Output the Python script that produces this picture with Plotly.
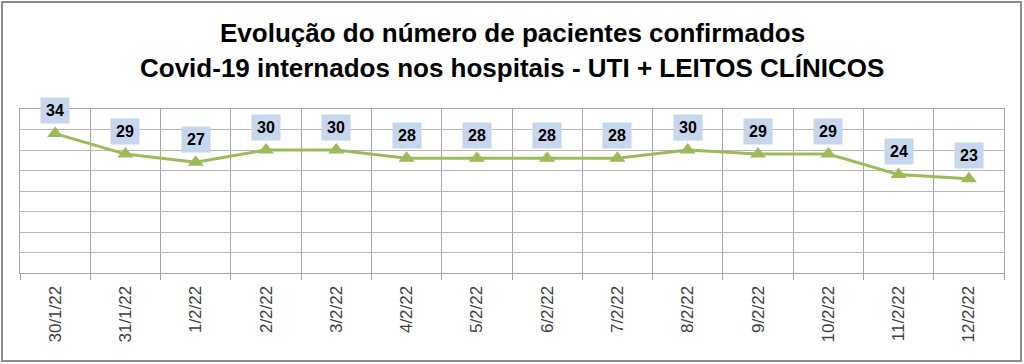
import plotly.graph_objects as go

dates = ["30/1/22", "31/1/22", "1/2/22", "2/2/22", "3/2/22", "4/2/22", "5/2/22",
         "6/2/22", "7/2/22", "8/2/22", "9/2/22", "10/2/22", "11/2/22", "12/2/22"]
pacientes = [34, 29, 27, 30, 30, 28, 28, 28, 28, 30, 29, 29, 24, 23]

title_lines = ["Evolução do número de pacientes confirmados",
               "Covid-19 internados nos hospitais - UTI + LEITOS CLÍNICOS"]

W, H = 1024, 364
ML, MR, MT, MB = 20, 20, 109, 91
FONT = "Liberation Sans, Arial"

fig = go.Figure()
fig.add_trace(go.Scatter(
    x=dates, y=pacientes, mode="lines+markers",
    line=dict(color="#9bbb59", width=3),
    marker=dict(symbol="triangle-up", size=14, color="#9bbb59"),
    hoverinfo="x+y", showlegend=False,
))

for d, v in zip(dates, pacientes):
    fig.add_annotation(
        x=d, y=v, text="<b>%d</b>" % v, showarrow=False, yshift=23,
        bgcolor="#c6d6ec", borderpad=4, width=20, height=17,
        font=dict(family=FONT, size=16, color="#000000"),
    )

pw, ph = W - ML - MR, H - MT - MB
def px2paper_x(px):
    return (px - ML) / pw
def px2paper_y(py):
    return (H - MB - py) / ph

# title lines
for t, cy in zip(title_lines, [33, 68]):
    fig.add_annotation(
        xref="paper", yref="paper", x=px2paper_x(512), y=px2paper_y(cy),
        xanchor="center", yanchor="middle", showarrow=False,
        text="<b>" + t + "</b>",
        font=dict(family=FONT, size=26, color="#000000"),
    )

# outer chart border
fig.add_shape(type="rect", xref="paper", yref="paper",
              x0=px2paper_x(2), x1=px2paper_x(1021), y0=px2paper_y(361), y1=px2paper_y(2),
              line=dict(color="#8c8c8c", width=2), layer="below")

fig.update_layout(
    width=W, height=H,
    margin=dict(l=ML, r=MR, t=MT, b=MB),
    paper_bgcolor="white", plot_bgcolor="white",
    xaxis=dict(
        type="category", tickson="boundaries", showgrid=True,
        gridcolor="#a6a6a6", gridwidth=1,
        showline=True, linecolor="#a6a6a6", linewidth=1, mirror=True,
        ticks="outside", ticklen=6, tickcolor="#a6a6a6",
        tickangle=-90, range=[-0.5, len(dates) - 0.5],
        tickfont=dict(family=FONT, size=17, color="#404040"),
        ticklabelstandoff=5,
        fixedrange=True,
    ),
    yaxis=dict(
        range=[0, 40], dtick=5, showticklabels=False, showgrid=True,
        gridcolor="#b8b8b8", gridwidth=1, zeroline=False,
        showline=True, linecolor="#a6a6a6", linewidth=1, mirror=True,
        fixedrange=True,
    ),
)

fig.write_html("out.html", config={"displayModeBar": False},
               post_script="document.body.style.margin='0';document.body.style.overflow='hidden';")
